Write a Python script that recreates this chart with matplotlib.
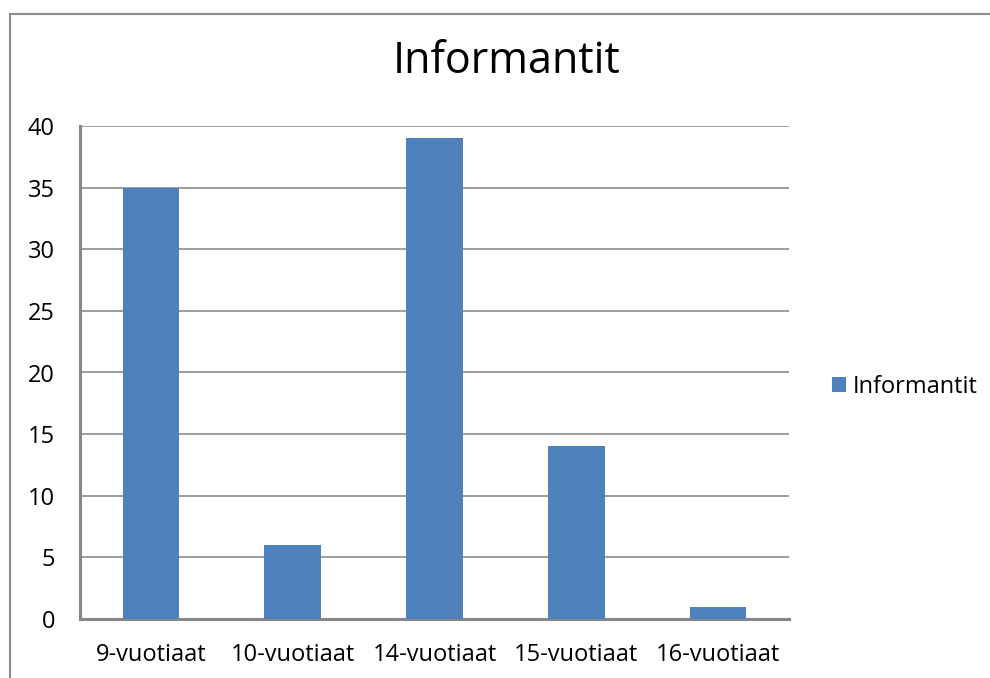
import matplotlib.pyplot as plt
from matplotlib.patches import Rectangle

categories = ['9-vuotiaat', '10-vuotiaat', '14-vuotiaat', '15-vuotiaat', '16-vuotiaat']
values = [35, 6, 39, 14, 1]
series_name = 'Informantit'
yticks = [0, 5, 10, 15, 20, 25, 30, 35, 40]

plt.rcParams['font.family'] = ['Open Sans', 'DejaVu Sans']

fig = plt.figure(figsize=(9.9, 6.78), dpi=100)
ax = fig.add_axes([80 / 990, 1 - 619 / 678, 709 / 990, 493 / 678])

# outer chart border (only top and left visible in the crop)
fig.patches.append(Rectangle((10 / 990, -0.2), 2.0, 1.2 - 14 / 678, transform=fig.transFigure,
                             fill=False, edgecolor='#8c8c8c', linewidth=1.5))

x = range(len(categories))
ax.bar(x, values, width=0.4, color='#4f81bd', label=series_name, zorder=3)

ax.set_xlim(-0.5, len(categories) - 0.5)
ax.set_ylim(0, 40)
ax.set_yticks(yticks)
ax.set_xticks(list(x))
ax.set_xticklabels(categories)
ax.yaxis.grid(True, color='#8c8c8c', linewidth=1.2, zorder=0)
ax.tick_params(axis='both', length=0, labelsize=17, colors='black')
ax.tick_params(axis='x', pad=17)
ax.tick_params(axis='y', pad=18)

for s in ['top', 'right']:
    ax.spines[s].set_visible(False)
for s in ['left', 'bottom']:
    ax.spines[s].set_color('#868686')
    ax.spines[s].set_linewidth(2.2)

fig.text(507 / 990, 1 - 62 / 678, 'Informantit', ha='center', va='center', fontsize=31)

ax.legend(loc='center left', bbox_to_anchor=(1.03, 0.47), frameon=False, fontsize=17,
          handlelength=0.6, handleheight=0.6, handletextpad=0.3)

fig.savefig('out.png', dpi=100)
